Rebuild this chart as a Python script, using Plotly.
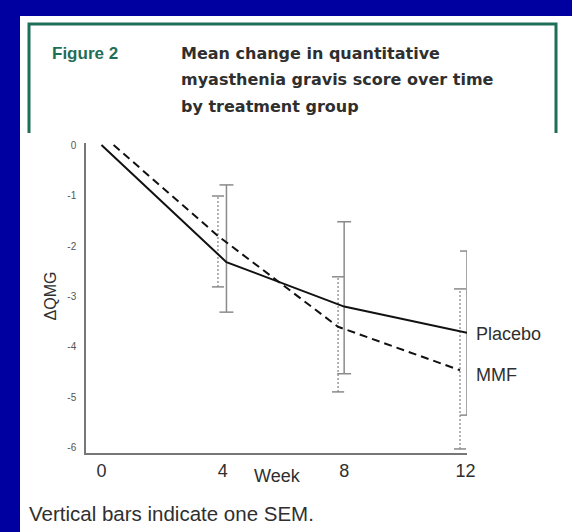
import plotly.graph_objects as go

# ---- data -------------------------------------------------------------
weeks = [0, 4, 8, 12]
week_ticks = [0, 4, 8, 12]
y_ticks = [0, -1, -2, -3, -4, -5, -6]

placebo_mean = [0.0, -2.32, -3.20, -3.72]
placebo_sem_top = [None, -0.79, -1.52, -2.10]
placebo_sem_bottom = [None, -3.31, -4.53, -5.35]

mmf_mean = [0.0, -1.80, -3.60, -4.46]
mmf_sem_top = [None, -1.01, -2.61, -2.85]
mmf_sem_bottom = [None, -2.81, -4.89, -6.02]

series_names = ["Placebo", "MMF"]

# ---- styling ----------------------------------------------------------
W, H = 572, 532
BLUE = "#0000a0"
GREEN = "#1f6e58"
TEXT = "#2f2f2f"
BAR_GREY = "#8a8a8a"
SANS = "Liberation Sans, Arial"
WIDE_BOLD = "DejaVu Sans"
mmf_dodge = [0.40, -0.16, -0.20, -0.18]   # horizontal nudge of MMF marks
placebo_dodge = [0.0, 0.12, 0.0, 0.05]
cap_placebo = 0.23
cap_mmf = 0.20


def px_x(p):
    return p / W


def px_y(p):
    return 1 - p / H


def bar_paths(xs, tops, bottoms, cap):
    vx, vy, cx, cy = [], [], [], []
    for x, t, b in zip(xs, tops, bottoms):
        if t is None:
            continue
        vx += [x, x, None]
        vy += [b, t, None]
        for y in (t, b):
            cx += [x - cap, x + cap, None]
            cy += [y, y, None]
    return vx, vy, cx, cy


placebo_x = [w + d for w, d in zip(weeks, placebo_dodge)]
mmf_x = [w + d for w, d in zip(weeks, mmf_dodge)]

fig = go.Figure()

# SEM bars, placebo (solid)
vx, vy, cx, cy = bar_paths(placebo_x, placebo_sem_top, placebo_sem_bottom, cap_placebo)
fig.add_trace(go.Scatter(x=vx, y=vy, mode="lines", hoverinfo="skip", showlegend=False,
                         line=dict(color=BAR_GREY, width=1.5)))
fig.add_trace(go.Scatter(x=cx, y=cy, mode="lines", hoverinfo="skip", showlegend=False,
                         line=dict(color=BAR_GREY, width=1.5)))

# SEM bars, MMF (dotted stem, solid caps)
vx, vy, cx, cy = bar_paths(mmf_x, mmf_sem_top, mmf_sem_bottom, cap_mmf)
fig.add_trace(go.Scatter(x=vx, y=vy, mode="lines", hoverinfo="skip", showlegend=False,
                         line=dict(color=BAR_GREY, width=1.3, dash="2px,2px")))
fig.add_trace(go.Scatter(x=cx, y=cy, mode="lines", hoverinfo="skip", showlegend=False,
                         line=dict(color=BAR_GREY, width=1.5)))

# mean lines
fig.add_trace(go.Scatter(x=placebo_x, y=placebo_mean, mode="lines", name=series_names[0],
                         showlegend=False, line=dict(color="#111111", width=2)))
fig.add_trace(go.Scatter(x=mmf_x, y=mmf_mean, mode="lines", name=series_names[1],
                         showlegend=False, line=dict(color="#111111", width=2, dash="8px,5px")))

shapes = [
    # blue slide frame: top band and left band around the white page
    dict(type="rect", xref="paper", yref="paper", x0=0, x1=1, y0=px_y(16), y1=1,
         fillcolor=BLUE, line=dict(width=0), layer="below"),
    dict(type="rect", xref="paper", yref="paper", x0=0, x1=px_x(20), y0=0, y1=1,
         fillcolor=BLUE, line=dict(width=0), layer="below"),
    # green header frame (open at the bottom)
    dict(type="path", xref="paper", yref="paper",
         path=f"M {px_x(29)} {px_y(133)} L {px_x(29)} {px_y(24)} L {px_x(556)} {px_y(24)} L {px_x(556)} {px_y(133)}",
         line=dict(color=GREEN, width=3)),
]

annotations = [
    dict(text="<b>Figure 2</b>", x=px_x(50), y=px_y(54), xanchor="left", yanchor="middle",
         font=dict(size=17, color=GREEN, family=SANS)),
]
title_lines = ["Mean change in quantitative",
               "myasthenia gravis score over time",
               "by treatment group"]
for i, line in enumerate(title_lines):
    annotations.append(dict(text=f"<b>{line}</b>", x=px_x(179), y=px_y(53 + 26.5 * i),
                            xanchor="left", yanchor="middle",
                            font=dict(size=16, color=TEXT, family=WIDE_BOLD)))

# series labels at the last time point
annotations += [
    dict(text=series_names[0], xref="x", yref="y", x=placebo_x[-1], y=placebo_mean[-1],
         xanchor="left", yanchor="middle", xshift=7, yshift=-1, showarrow=False,
         font=dict(size=18, color=TEXT, family=SANS)),
    dict(text=series_names[1], xref="x", yref="y", x=placebo_x[-1], y=mmf_mean[-1],
         xanchor="left", yanchor="middle", xshift=7, yshift=-5, showarrow=False,
         font=dict(size=18, color=TEXT, family=SANS)),
    dict(text="ΔQMG", x=px_x(49.5), y=px_y(296), textangle=-90, xanchor="center", yanchor="middle",
         font=dict(size=16, color=TEXT, family=SANS)),
    dict(text="Week", x=px_x(277), y=px_y(476), xanchor="center", yanchor="middle",
         font=dict(size=18, color=TEXT, family=SANS)),
    dict(text="Vertical bars indicate one SEM.", x=px_x(27), y=px_y(513),
         xanchor="left", yanchor="middle",
         font=dict(size=20.5, color=TEXT, family=SANS)),
]
for a in annotations:
    a.setdefault("xref", "paper")
    a.setdefault("yref", "paper")
    a.setdefault("showarrow", False)

fig.update_layout(
    width=W, height=H, autosize=False,
    margin=dict(l=0, r=0, t=0, b=0, pad=0, autoexpand=False),
    paper_bgcolor="white",
    plot_bgcolor="white",
    shapes=shapes,
    annotations=annotations,
    xaxis=dict(domain=[px_x(86), px_x(467)], range=[-0.51, 12.05], automargin=False,
               tickvals=week_ticks, ticktext=[str(t) for t in week_ticks],
               showgrid=False, zeroline=False, showline=True, linecolor="#777777", linewidth=1.5,
               ticks="", ticklabelstandoff=1,
               tickfont=dict(size=18, color=TEXT, family=SANS)),
    yaxis=dict(domain=[px_y(453), px_y(143)], range=[-6.1, 0.04], automargin=False,
               tickvals=y_ticks, ticktext=[str(t) for t in y_ticks],
               showgrid=False, zeroline=False, showline=True, linecolor="#777777", linewidth=1.5,
               ticks="", ticklabelstandoff=6,
               tickfont=dict(size=10, color="#555555", family=SANS)),
)

fig.write_html("out.html", config={"responsive": False, "displayModeBar": False})
